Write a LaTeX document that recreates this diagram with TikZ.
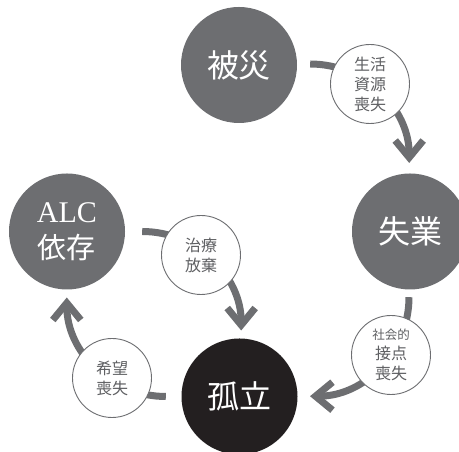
\documentclass[tikz,border=0pt]{standalone}
\usepackage{fontspec}
\newfontfamily\cjk{Noto Sans CJK JP}
\newfontfamily\latinserif{Liberation Serif}
\usetikzlibrary{arrows.meta}
\definecolor{cgray}{HTML}{6D6E71}
\definecolor{cblack}{HTML}{231F20}
\definecolor{ctext}{HTML}{5E5F62}
\begin{document}
\begin{tikzpicture}[x=1pt,y=1pt,
  big/.style={circle, minimum size=116pt, inner sep=0pt, fill=cgray, text=white, align=center,
    font=\cjk\fontsize{32}{36}\selectfont},
  small/.style={circle, minimum size=79pt, inner sep=0pt, draw=cgray, line width=0.9pt, fill=white,
    text=ctext, align=center, font=\cjk\fontsize{16}{20}\selectfont},
  arr/.style={draw=cgray, line width=7pt, -{Straight Barb[length=17pt,width=28pt]}}
]
\useasboundingbox (0,0) rectangle (459,452);
% main states
\node[big] (hisai) at (239,387) {被災};
\node[big] (shitsu) at (410,220.5) {失業};
\node[big, fill=cblack] (koritsu) at (239.5,55.5) {孤立};
\node[big, font=\latinserif\fontsize{30}{36}\selectfont] (alc) at (67,220.5) {ALC\\{\cjk\fontsize{29}{36}\selectfont 依存}};
% arrows
\draw[arr] ([xshift=13pt,yshift=1pt]hisai.east) arc[start angle=90, end angle=0, radius=99];
\draw[arr] ([xshift=-1pt,yshift=-7.5pt]shitsu.south) arc[start angle=0, end angle=-90, radius=99];
\draw[arr] ([xshift=-15.5pt]koritsu.west) arc[start angle=-90, end angle=-180, radius=99];
\draw[arr] ([xshift=17pt]alc.east) arc[start angle=90, end angle=0, radius=99];
% causes
\node[small] (s1) at (370,368) {生活\\資源\\喪失};
\node[small] (s2) at (391,97) {{\fontsize{12.5}{16}\selectfont 社会的}\\接点\\喪失};
\node[small] (s3) at (112,74) {希望\\喪失};
\node[small] (s4) at (201,197) {治療\\放棄};
\end{tikzpicture}
\end{document}
